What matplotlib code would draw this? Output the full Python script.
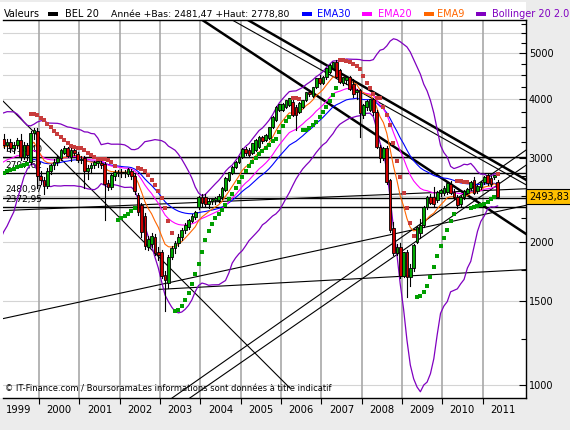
import numpy as np
import pandas as pd
import matplotlib
matplotlib.use("Agg")
import matplotlib.pyplot as plt
from matplotlib.patches import Rectangle

# BEL 20, monthly candles from Jan 1999 to May 2011
first_year = 1999
opens = [
    3400, 3300, 3200, 3250, 3150, 3200, 3280, 3020, 3200, 2950, 3390, 3420,
    2750, 2700, 2620, 2820, 2900, 2950, 3000, 3080, 3150, 3020, 3120, 3060,
    2980, 3000, 2820, 2860, 2900, 2930, 2930, 2920, 2660, 2610, 2760, 2790,
    2800, 2790, 2780, 2820, 2750, 2510, 2390, 2260, 1950, 1980, 2050, 1900,
    1900, 1700, 1640, 1860, 1940, 1990, 2050, 2120, 2150, 2220, 2260, 2370,
    2480, 2490, 2400, 2440, 2450, 2450, 2490, 2575, 2700, 2800, 2880, 2950,
    3020, 3140, 3125, 3080, 3130, 3170, 3330, 3280, 3320, 3490, 3610, 3800,
    3790, 3850, 3890, 3940, 3850, 3760, 3850, 3980, 4140, 4070, 4240, 4420,
    4330, 4450, 4560, 4650, 4790, 4600, 4330, 4380, 4450, 4300, 4150, 4180,
    3700, 3850, 3800, 4000, 3760, 3170, 3000, 3150, 2700, 2140, 1900, 1950,
    1700, 1900, 1690, 1760, 2000, 2090, 2170, 2370, 2490, 2480, 2450, 2540,
    2540, 2550, 2640, 2550, 2490, 2400, 2490, 2540, 2600, 2700, 2560, 2610,
    2670, 2770, 2720, 2740, 2670,
]
highs = [
    3730, 3380, 3300, 3290, 3250, 3320, 3370, 3250, 3230, 3420, 3470, 3480,
    2820, 2740, 2860, 2920, 2990, 3050, 3140, 3180, 3170, 3150, 3160, 3090,
    3040, 3030, 2900, 2930, 2970, 2990, 2980, 2950, 2700, 2790, 2830, 2840,
    2850, 2830, 2860, 2850, 2780, 2540, 2420, 2300, 2060, 2090, 2080, 1950,
    1920, 1740, 1880, 1960, 2010, 2080, 2140, 2190, 2240, 2290, 2330, 2500,
    2520, 2520, 2470, 2480, 2490, 2520, 2610, 2740, 2810, 2890, 2960, 3030,
    3150, 3170, 3150, 3240, 3290, 3340, 3350, 3380, 3500, 3680, 3860, 3910,
    3920, 3990, 4030, 3980, 3890, 3950, 3990, 4150, 4180, 4250, 4430, 4500,
    4470, 4660, 4740, 4800, 4830, 4620, 4460, 4470, 4480, 4400, 4200, 4200,
    3900, 3990, 4010, 4030, 3790, 3200, 3170, 3190, 2720, 2200, 1980, 1990,
    1910, 1920, 1800, 1980, 2160, 2240, 2380, 2500, 2520, 2610, 2560, 2590,
    2620, 2680, 2690, 2590, 2510, 2500, 2580, 2600, 2690, 2740, 2640, 2690,
    2760, 2778.8, 2750, 2775, 2700,
]
lows = [
    3250, 3150, 3120, 3100, 3080, 3150, 2980, 2990, 2980, 2920, 3300, 2600,
    2650, 2530, 2600, 2780, 2850, 2900, 2980, 3060, 3020, 2960, 3050, 2950,
    2930, 2600, 2720, 2800, 2870, 2880, 2860, 2230, 2580, 2590, 2700, 2750,
    2740, 2740, 2760, 2720, 2520, 2280, 2050, 1930, 1920, 1950, 1880, 1830,
    1680, 1430, 1600, 1840, 1900, 1960, 2020, 2090, 2130, 2200, 2240, 2350,
    2380, 2380, 2360, 2400, 2400, 2430, 2470, 2560, 2690, 2780, 2860, 2930,
    3000, 3050, 3030, 3060, 3110, 3150, 3240, 3260, 3300, 3470, 3600, 3780,
    3770, 3830, 3870, 3680, 3440, 3740, 3830, 3960, 4060, 4050, 4220, 4300,
    4300, 4420, 4530, 4630, 4430, 4320, 4280, 4300, 4180, 4050, 4000, 3330,
    3650, 3800, 3780, 3700, 3150, 2950, 2980, 2650, 2100, 1880, 1880, 1680,
    1690, 1530, 1620, 1740, 1990, 2040, 2150, 2350, 2400, 2380, 2430, 2500,
    2510, 2530, 2520, 2470, 2360, 2380, 2470, 2520, 2580, 2520, 2540, 2590,
    2650, 2640, 2630, 2720, 2481.47,
]
closes = [
    3300, 3200, 3250, 3150, 3200, 3280, 3020, 3200, 3050, 3390, 3440, 2750,
    2700, 2620, 2820, 2900, 2950, 3000, 3120, 3150, 3040, 3120, 3080, 2980,
    2990, 2820, 2860, 2900, 2950, 2960, 2910, 2650, 2610, 2760, 2800, 2810,
    2790, 2800, 2840, 2760, 2560, 2310, 2100, 1960, 2030, 2060, 1900, 1880,
    1700, 1660, 1860, 1940, 1990, 2050, 2120, 2170, 2220, 2270, 2310, 2480,
    2420, 2400, 2440, 2460, 2470, 2500, 2600, 2730, 2800, 2880, 2950, 3020,
    3140, 3080, 3050, 3230, 3280, 3330, 3260, 3360, 3490, 3670, 3850, 3900,
    3900, 3980, 4010, 3700, 3700, 3930, 3980, 4140, 4100, 4240, 4420, 4330,
    4450, 4650, 4720, 4790, 4450, 4340, 4450, 4440, 4200, 4100, 4180, 3740,
    3880, 3950, 4000, 3760, 3170, 3000, 3150, 2680, 2120, 1900, 1950, 1700,
    1900, 1690, 1760, 1970, 2150, 2170, 2370, 2490, 2420, 2400, 2540, 2570,
    2600, 2660, 2540, 2490, 2390, 2480, 2560, 2580, 2670, 2540, 2620, 2670,
    2740, 2660, 2650, 2770, 2493.83,
]
# 1997-1998 closes, only used to start the indicators
warmup_closes = [
    2050, 2100, 2150, 2200, 2250, 2300, 2450, 2400, 2450, 2250, 2350, 2400,
    2600, 2800, 3150, 3250, 3350, 3400, 3500, 3100, 2850, 3050, 3250, 3350,
]
sar_start = 2780

years = list(range(1999, 2012))
hlines = [3018.40, 2797.62, 2480.97, 2372.95]
hline_labels = ["3018,40", "2797,62", "2480,97", "2372,95"]
# user trend lines: (year, price) -> (year, price), thick or not
trend_lines = [
    ((1999.11, 3960), (2006.22, 986), False),
    ((2004.05, 5870), (2012.08, 2080), True),
    ((2005.18, 5870), (2012.08, 2704), True),
    ((2004.79, 5870), (2012.08, 2640), False),
    ((2003.30, 939), (2012.08, 3125), False),
    ((2003.74, 939), (2012.08, 2904), False),
    ((1999.11, 1380), (2012.08, 2390), False),
    ((1999.11, 2330), (2012.08, 2590), False),
    ((2002.98, 1590), (2012.08, 1750), False),
]

GREEN = "#00A800"
RED = "#CC0000"
C_EMA30 = "#0000FF"
C_EMA20 = "#FF00FF"
C_EMA9 = "#FF6600"
C_BOLL = "#8000C0"


def parabolic_sar(high, low, start, step=0.02, amax=0.2):
    n = len(high)
    sar = np.zeros(n)
    up = np.zeros(n, dtype=bool)
    rising = True
    s = start
    ep = high[0]
    af = step
    for i in range(n):
        if i > 0:
            s = s + af * (ep - s)
            if rising:
                s = min(s, low[i - 1], low[max(i - 2, 0)])
                if low[i] < s:
                    rising = False
                    s, ep, af = ep, low[i], step
                elif high[i] > ep:
                    ep = high[i]
                    af = min(af + step, amax)
            else:
                s = max(s, high[i - 1], high[max(i - 2, 0)])
                if high[i] > s:
                    rising = True
                    s, ep, af = ep, high[i], step
                elif low[i] < ep:
                    ep = low[i]
                    af = min(af + step, amax)
        sar[i] = s
        up[i] = rising
    return sar, up


n = len(closes)
nw = len(warmup_closes)
t = first_year + (np.arange(n) + 0.5) / 12
allc = pd.Series(warmup_closes + closes, dtype=float)
ema30 = allc.ewm(span=30, adjust=False).mean().values[nw:]
ema20 = allc.ewm(span=20, adjust=False).mean().values[nw:]
ema9 = allc.ewm(span=9, adjust=False).mean().values[nw:]
mid = allc.rolling(20).mean()
sd = allc.rolling(20).std(ddof=0)
bb_up = (mid + 2 * sd).values[nw:]
bb_lo = (mid - 2 * sd).values[nw:]
sar, sar_up = parabolic_sar(highs, lows, sar_start)

W, H = 570, 430
fig = plt.figure(figsize=(W / 100, H / 100), dpi=100, facecolor="#ECECEC")
plt.rcParams["font.family"] = "DejaVu Sans"


def fx(px):
    return px / W


def fy(py):
    return 1 - py / H


fig.patches.append(Rectangle((0, fy(398)), fx(526), fy(2) - fy(398),
                             transform=fig.transFigure, facecolor="white",
                             edgecolor="none", zorder=-5))
ax = fig.add_axes([fx(3), fy(398), fx(526) - fx(3), fy(20) - fy(398)])
ax.set_facecolor("white")
ax.set_yscale("log")
ax.set_ylim(939, 5870)
ax.set_xlim(1999.107, 2012.078)

# grid
for v in range(1000, 6000, 500):
    ax.axhline(v, color="#D4D4D4", lw=0.8, zorder=1)
for y in years[1:]:
    ax.axvline(y, color="#A8A8A8", lw=1.2, zorder=1)

# horizontal support lines and their labels
for v, lab in zip(hlines, hline_labels):
    ax.axhline(v, color="black", lw=1.0, zorder=3)
    ax.text(1999.16, v * 1.038, lab, fontsize=6.5, ha="left", va="center", zorder=2)

for (x0, y0), (x1, y1), thick in trend_lines:
    ax.plot([x0, x1], [y0, y1], color="black", lw=1.8 if thick else 0.8, zorder=3)

# bollinger and moving averages
ax.plot(t, bb_up, color=C_BOLL, lw=0.9, zorder=4)
ax.plot(t, bb_lo, color=C_BOLL, lw=0.9, zorder=4)
ax.plot(t, ema30, color=C_EMA30, lw=0.8, zorder=4)
ax.plot(t, ema20, color=C_EMA20, lw=0.8, zorder=4)
ax.plot(t, ema9, color=C_EMA9, lw=0.8, zorder=4)

# candles
w = 0.8 / 12
for i in range(n):
    o, hi, lo, c = opens[i], highs[i], lows[i], closes[i]
    ax.plot([t[i], t[i]], [lo, hi], color="black", lw=0.8, zorder=5)
    col = GREEN if c >= o else RED
    ax.add_patch(Rectangle((t[i] - w / 2, min(o, c)), w, abs(c - o) + 4,
                           facecolor=col, edgecolor="black", lw=0.6, zorder=6))

# parabolic SAR
ax.scatter(t[sar_up], sar[sar_up], marker="s", s=6, color="#009E00", lw=0, zorder=7)
ax.scatter(t[~sar_up], sar[~sar_up], marker="s", s=6, color="#C83C3C", lw=0, zorder=7)

# axes look
ax.spines["left"].set_visible(False)
for side in ["bottom", "right", "top"]:
    ax.spines[side].set_color("black")
    ax.spines[side].set_linewidth(1.0)
ax.yaxis.tick_right()
major = [1000, 1500, 2000, 3000, 4000, 5000]
ax.set_yticks(major)
ax.set_yticklabels([str(v) for v in major], fontsize=7)
ax.set_yticks([v for v in range(1250, 6000, 250) if v not in major], minor=True)
ax.yaxis.set_minor_formatter(plt.NullFormatter())
ax.tick_params(axis="y", which="major", direction="in", length=5, width=0.8, pad=2)
ax.tick_params(axis="y", which="minor", direction="in", length=3.5, width=0.8)
ax.set_xticks(years[1:])
ax.set_xticklabels([])
ax.set_xticks([y + 0.5 for y in years], minor=True)
ax.set_xticklabels([str(y) for y in years], minor=True, fontsize=7.2)
ax.tick_params(axis="x", which="major", direction="out", length=4, width=0.8)
ax.tick_params(axis="x", which="minor", length=0, pad=5)

ax.text(0.004, 0.012, "© IT-Finance.com / BoursoramaLes informations sont données à titre indicatif",
        transform=ax.transAxes, fontsize=6, ha="left", va="bottom", zorder=8)

# last price box
last = closes[-1]
ax.annotate(f"{last:.2f}".replace(".", ","), xy=(1.0, last), xycoords=("axes fraction", "data"),
            xytext=(2, 0), textcoords="offset points", fontsize=7, ha="left", va="center",
            bbox=dict(boxstyle="square,pad=0.25", facecolor="#FFC000", edgecolor="black", lw=0.8),
            annotation_clip=False, zorder=9)

# header legend
hy = fy(14)
fig.text(fx(4), hy, "Valeurs", fontsize=7, va="center")
items = [
    (48, "black", 65, "BEL 20", "black"),
    (302, C_EMA30, 317, "EMA30", C_EMA30),
    (362, C_EMA20, 378, "EMA20", C_EMA20),
    (424, C_EMA9, 437, "EMA9", C_EMA9),
    (476, C_BOLL, 492, "Bollinger 20 2.0", C_BOLL),
]
for sx, sc, tx, label, tc in items:
    fig.patches.append(Rectangle((fx(sx), fy(16)), fx(10), fy(12) - fy(16),
                                 transform=fig.transFigure, facecolor=sc, edgecolor="none"))
    fig.text(fx(tx), hy, label, fontsize=7, va="center", color=tc)
fig.text(fx(111), hy, "Année +Bas: 2481,47 +Haut: 2778,80", fontsize=6.7, va="center")

fig.savefig("out.png", dpi=100, facecolor=fig.get_facecolor())
